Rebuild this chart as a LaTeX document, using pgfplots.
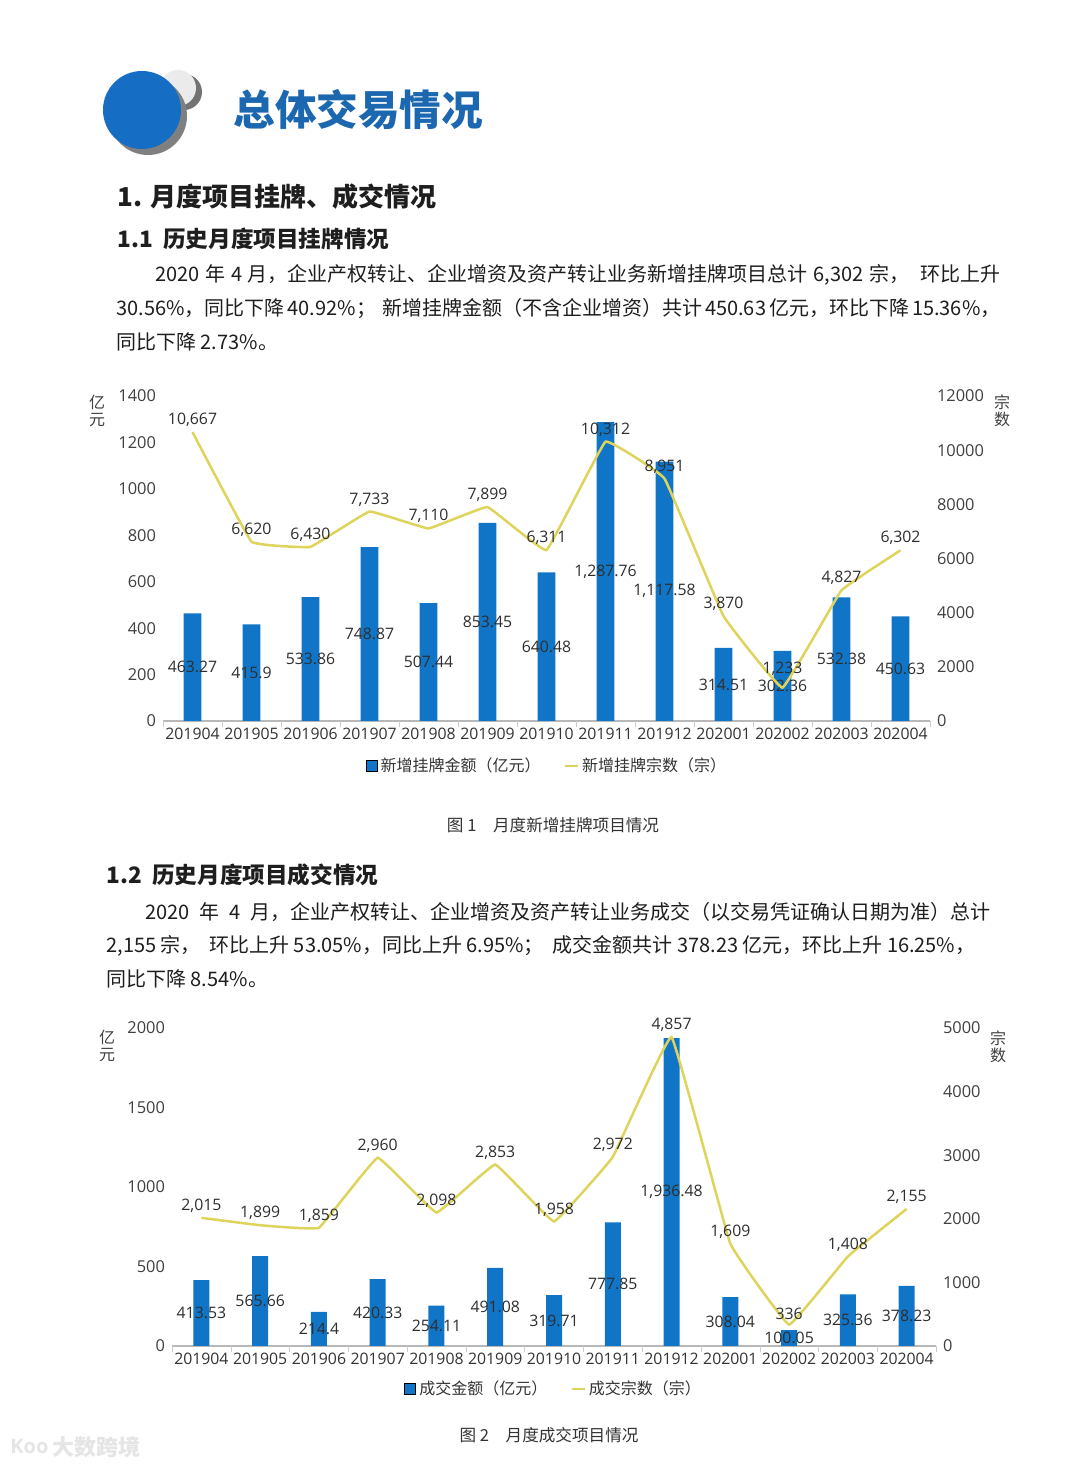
\documentclass[border=0pt]{standalone}
\usepackage{pgfplots}
\pgfplotsset{compat=1.18}
\usepackage{pgfplotstable}
\usepackage{fontspec}
\setmainfont{Noto Sans CJK SC}
\newfontfamily\numfont{Open Sans}
\definecolor{barblue}{RGB}{16,117,198}
\definecolor{lineyel}{RGB}{222,212,92}
\definecolor{titleblue}{RGB}{28,104,176}
\definecolor{logoblue}{RGB}{22,110,196}
\definecolor{txt}{RGB}{30,30,30}

\pgfplotstableread{
x amt amtlab cnt cntlab dy
0 463.27 463.27 10667 10,667 0
1 415.9 415.9 6620 6,620 0
2 533.86 533.86 6430 6,430 0
3 748.87 748.87 7733 7,733 0
4 507.44 507.44 7110 7,110 0
5 853.45 853.45 7899 7,899 0
6 640.48 640.48 6311 6,311 0
7 1287.76 1,287.76 10312 10,312 0
8 1117.58 1,117.58 8951 8,951 0
9 314.51 314.51 3870 3,870 0
10 302.36 302.36 1233 1,233 3.5
11 532.38 532.38 4827 4,827 0
12 450.63 450.63 6302 6,302 0
}\dataA

\pgfplotstableread{
x amt amtlab cnt cntlab dy
0 413.53 413.53 2015 2,015 0
1 565.66 565.66 1899 1,899 0
2 214.4 214.4 1859 1,859 0
3 420.33 420.33 2960 2,960 0
4 254.11 254.11 2098 2,098 0
5 491.08 491.08 2853 2,853 0
6 319.71 319.71 1958 1,958 0
7 777.85 777.85 2972 2,972 0
8 1936.48 1,936.48 4857 4,857 0
9 308.04 308.04 1609 1,609 0
10 100.05 100.05 336 336 0
11 325.36 325.36 1408 1,408 0
12 378.23 378.23 2155 2,155 0
}\dataB

\pgfplotsset{
  base/.style={
    scale only axis, anchor=south west,
    xmin=-0.5, xmax=12.5,
    clip=false,
    major tick length=0pt,
    scaled y ticks=false,
    ticklabel style={font=\numfont\fontsize{8.2}{10}\selectfont, text=black!75},
    xticklabel style={font=\numfont\fontsize{7.9}{10}\selectfont, text=black!80},
    /pgf/number format/assume math mode=true,
    /pgf/number format/1000 sep={},
    y axis line style={draw=none},
  },
  leftax/.style={
    base, axis y line*=left, axis x line*=bottom,
    x axis line style={draw=black!28, line width=0.7pt},
    xtick={0,...,12},
    xticklabels={201904,201905,201906,201907,201908,201909,201910,201911,201912,202001,202002,202003,202004},
    extra x ticks={-0.5,0.5,...,12.5}, extra x tick labels={},
    extra x tick style={major tick length=3pt, tick align=outside, tick style={draw=black!20}},
  },
  rightax/.style={
    base, axis y line*=right, axis x line=none,
  },
  shortline legend/.style={legend image code/.code={\draw[##1] (0pt,0pt) -- (6.5pt,0pt);}},
  square legend/.style={legend image code/.code={\fill[##1] (0pt,-2.8pt) rectangle (5.6pt,2.8pt);}},
  barlab/.style={draw=none, mark=none, forget plot, nodes near coords, point meta=explicit symbolic,
    every node near coord/.append style={anchor=center, font=\numfont\fontsize{7.9}{10}\selectfont, text=black!82}},
  linelab/.style={draw=none, mark=none, forget plot, nodes near coords, point meta=explicit symbolic,
    visualization depends on={\thisrow{dy} \as \dyval},
    every node near coord/.append style={anchor=south, inner sep=2pt, yshift=0.5pt+\dyval pt, font=\numfont\fontsize{7.9}{10}\selectfont, text=black!82}},
  legstyle/.style={legend style={at={#1}, anchor=center, draw=none, fill=none, legend columns=2,
    font=\fontsize{8}{9}\selectfont, text=black!80,
    nodes={inner xsep=1.5pt},
    /tikz/every even column/.append style={column sep=10pt}}},
}

\begin{document}
\begin{tikzpicture}
\path[use as bounding box, fill=white] (0,0) rectangle (540pt,734pt);

\begin{scope}[x=0.5pt, y=-0.5pt, shift={(0pt,734pt)}]
  % logo
  \fill[black!55] (184,92) circle (18);
  \fill[black!8] (178,88) circle (18);
  \fill[black!50] (148,116) circle (39);
  \fill[logoblue] (142,110) circle (39);
  \node[anchor=west, inner sep=0, font=\bfseries\fontsize{20.8}{24}\selectfont, text=titleblue] at (233,110) {总体交易情况};

  \node[anchor=west, inner sep=0, font=\bfseries\fontsize{13}{15}\selectfont, text=txt] at (117,197) {1. 月度项目挂牌、成交情况};
  \node[anchor=west, inner sep=0, font=\bfseries\fontsize{11.3}{14}\selectfont, text=txt] at (117,239) {1.1\ \ 历史月度项目挂牌情况};
  \begin{scope}[every node/.style={anchor=west, inner sep=0, font=\fontsize{10}{12}\selectfont, text=txt}]
    \node at (155,275) {\makebox[422.5pt][s]{2020 年 4 月，企业产权转让、企业增资及资产转让业务新增挂牌项目总计 6,302 宗，\ \ 环比上升}};
    \node at (116,309) {\makebox[442pt][s]{30.56\%，同比下降 40.92\%；\ \ 新增挂牌金额（不含企业增资）共计 450.63 亿元，环比下降 15.36\%，}};
    \node at (116,342) {同比下降 2.73\%。};
  \end{scope}

  \node[font=\fontsize{8.3}{10}\selectfont, text=black!80] at (553,825) {图 1\quad 月度新增挂牌项目情况};

  \node[anchor=west, inner sep=0, font=\bfseries\fontsize{11.3}{14}\selectfont, text=txt] at (106,875) {1.2\ \ 历史月度项目成交情况};
  \begin{scope}[every node/.style={anchor=west, inner sep=0, font=\fontsize{10}{12}\selectfont, text=txt}]
    \node at (145,912) {\makebox[422.5pt][s]{2020 年 4 月，企业产权转让、企业增资及资产转让业务成交（以交易凭证确认日期为准）总计}};
    \node at (106,946) {\makebox[434.5pt][s]{2,155 宗，\ \ 环比上升 53.05\%，同比上升 6.95\%；\ \ 成交金额共计 378.23 亿元，环比上升 16.25\%，}};
    \node at (106,979) {同比下降 8.54\%。};
  \end{scope}

  \node[font=\fontsize{8.3}{10}\selectfont, text=black!80] at (549,1435) {图 2\quad 月度成交项目情况};

  % unit labels
  \begin{scope}[every node/.style={align=center, inner sep=0, font=\fontsize{8}{8.5}\selectfont, text=black!75}]
    \node at (97,411) {亿\\元};
    \node at (1002,411) {宗\\数};
    \node at (107,1046) {亿\\元};
    \node at (998,1047) {宗\\数};
  \end{scope}

  \node[anchor=west, inner sep=0, font=\bfseries\fontsize{11}{12}\selectfont, text=black!10] at (52,1447) {大数跨境};
  \node[anchor=west, inner sep=0, font=\numfont\bfseries\fontsize{10}{12}\selectfont, text=black!10] at (10,1446) {Koo};
\end{scope}

% ---------- Chart 1 ----------
\begin{axis}[leftax, at={(81.5pt,373.5pt)}, width=383.5pt, height=162.5pt,
  ymin=0, ymax=1400, ytick={0,200,...,1400}]
  \addplot[ybar, bar width=8.9pt, fill=barblue, draw=none] table[x=x, y=amt]{\dataA};
  \addplot[barlab] table[x=x, y expr=\thisrow{amt}/2, meta=amtlab]{\dataA};
\end{axis}
\begin{axis}[rightax, at={(81.5pt,373.5pt)}, width=383.5pt, height=162.5pt,
  ymin=0, ymax=12000, ytick={0,2000,...,12000},
  legstyle={(0.501,-0.138)}]
  \addlegendimage{square legend, fill=barblue}
  \addlegendentry{新增挂牌金额（亿元）}
  \addplot[smooth, tension=0.12, color=lineyel, line width=1.25pt, mark=none, shortline legend] table[x=x, y=cnt]{\dataA};
  \addlegendentry{新增挂牌宗数（宗）}
  \addplot[linelab] table[x=x, y=cnt, meta=cntlab]{\dataA};
\end{axis}

% ---------- Chart 2 ----------
\begin{axis}[leftax, at={(86pt,61pt)}, width=382pt, height=159pt,
  ymin=0, ymax=2000, ytick={0,500,...,2000}]
  \addplot[ybar, bar width=8pt, fill=barblue, draw=none] table[x=x, y=amt]{\dataB};
  \addplot[barlab] table[x=x, y expr=\thisrow{amt}/2, meta=amtlab]{\dataB};
\end{axis}
\begin{axis}[rightax, at={(86pt,61pt)}, width=382pt, height=159pt,
  ymin=0, ymax=5000, ytick={0,1000,...,5000},
  legstyle={(0.5,-0.135)}]
  \addlegendimage{square legend, fill=barblue}
  \addlegendentry{成交金额（亿元）}
  \addplot[smooth, tension=0.12, color=lineyel, line width=1.25pt, mark=none, shortline legend] table[x=x, y=cnt]{\dataB};
  \addlegendentry{成交宗数（宗）}
  \addplot[linelab] table[x=x, y=cnt, meta=cntlab]{\dataB};
\end{axis}
\end{tikzpicture}
\end{document}
